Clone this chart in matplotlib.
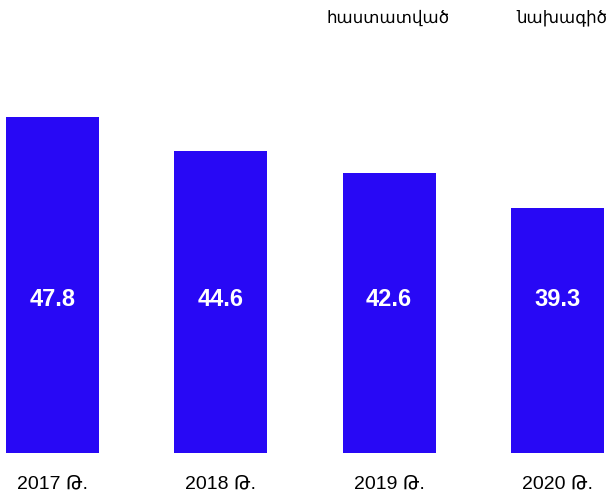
import matplotlib.pyplot as plt
import matplotlib.transforms as mtransforms
import numpy as np

# Data
years = ["2017 Թ.", "2018 Թ.", "2019 Թ.", "2020 Թ."]
values = [47.8, 44.6, 42.6, 39.3]
legend_labels = ["հաստատված", "նախագիծ"]

BAR_COLOR = "#2808F5"
FONTS = ["Liberation Sans", "DejaVu Sans"]

plt.rcParams["font.family"] = FONTS

fig = plt.figure(figsize=(6.13, 4.98), dpi=100)
ax = fig.add_axes([0, 45 / 498, 1, 453 / 498])

x = np.arange(len(years))
ax.bar(x, values, width=0.553, color=BAR_COLOR)

ax.set_xlim(-0.312, 3.33)
ax.set_ylim(16.42, 58.73)

# value labels inside the bars, all at the same height
trans = mtransforms.blended_transform_factory(ax.transData, ax.transAxes)
for xi, v in zip(x, values):
    ax.text(xi, 0.338, f"{v:.1f}", transform=trans, ha="center", va="center",
            color="white", fontsize=17, fontweight="bold")

ax.set_xticks(x)
ax.set_xticklabels(years, fontsize=14)
ax.tick_params(axis="x", length=0, pad=16)
ax.set_yticks([])
for s in ax.spines.values():
    s.set_visible(False)

# legend texts at the top, no markers
fig.text(388 / 613, 1 - 18 / 498, legend_labels[0], ha="center", va="center", fontsize=12)
fig.text(562 / 613, 1 - 18 / 498, legend_labels[1], ha="center", va="center", fontsize=12)

fig.savefig("out.png", dpi=100)
